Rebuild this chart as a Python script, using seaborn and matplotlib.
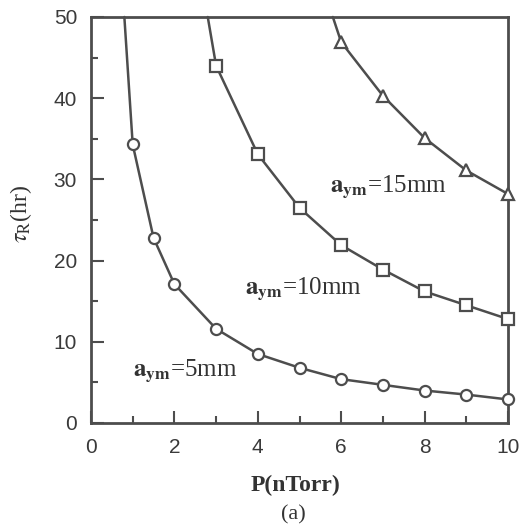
import matplotlib
matplotlib.use("Agg")
import matplotlib.pyplot as plt
import seaborn as sns
import pandas as pd
from matplotlib.ticker import MultipleLocator

# ---- data ----
p_5mm = [1.0, 1.5, 2.0, 3.0, 4.0, 5.0, 6.0, 7.0, 8.0, 9.0, 10.0]
tau_5mm = [34.3, 22.8, 17.1, 11.6, 8.5, 6.8, 5.4, 4.7, 4.0, 3.5, 2.9]
p_10mm = [3.0, 4.0, 5.0, 6.0, 7.0, 8.0, 9.0, 10.0]
tau_10mm = [44.0, 33.1, 26.5, 21.9, 18.9, 16.2, 14.5, 12.8]
p_15mm = [6.0, 7.0, 8.0, 9.0, 10.0]
tau_15mm = [46.9, 40.3, 35.1, 31.1, 28.2]
# where each curve leaves the top of the frame
p_top = [0.8, 2.8, 5.8]
tau_top = [50.0, 50.0, 50.0]
labels = ["$\\mathbf{a}_{\\mathbf{ym}}$=5mm", "$\\mathbf{a}_{\\mathbf{ym}}$=10mm",
          "$\\mathbf{a}_{\\mathbf{ym}}$=15mm"]
label_x = [1.0, 3.7, 5.72]
label_y = [6.4, 16.5, 29.1]
x_ticks = [0, 2, 4, 6, 8, 10]
y_ticks = [0, 10, 20, 30, 40, 50]

sns.set_theme(style="ticks")
plt.rcParams["font.family"] = ["Liberation Sans", "DejaVu Sans"]
plt.rcParams["mathtext.fontset"] = "stix"

fig = plt.figure(figsize=(5.23, 5.29), dpi=100)
ax = fig.add_axes([91 / 523, (529 - 423) / 529, (508 - 91) / 523, (423 - 17) / 529])

col = "#4d4d4d"
series = [(p_5mm, tau_5mm, "o", 8), (p_10mm, tau_10mm, "s", 8.5), (p_15mm, tau_15mm, "^", 9)]
for i, (px, ty, mk, ms) in enumerate(series):
    df = pd.DataFrame({"P": [p_top[i]] + px, "tau": [tau_top[i]] + ty})
    sns.lineplot(data=df, x="P", y="tau", ax=ax, color=col, lw=1.8, sort=False,
                 marker=mk, markersize=ms, markerfacecolor="white",
                 markeredgecolor=col, markeredgewidth=1.6,
                 markevery=list(range(1, len(df))), clip_on=False, zorder=3)

ax.set_xlim(0, 10)
ax.set_ylim(0, 50)
ax.set_xticks(x_ticks)
ax.set_yticks(y_ticks)
ax.xaxis.set_minor_locator(MultipleLocator(1))
ax.yaxis.set_minor_locator(MultipleLocator(5))
ax.tick_params(which="both", direction="in", top=False, right=False, color=col, width=1.5)
ax.tick_params(which="major", length=9)
ax.tick_params(which="minor", length=5)
ax.tick_params(axis="x", which="major", pad=11, labelsize=15, labelcolor="#3a3a3a")
ax.tick_params(axis="y", which="major", pad=10, labelsize=15, labelcolor="#3a3a3a")
for s in ax.spines.values():
    s.set_color(col)
    s.set_linewidth(2)
ax.set_xlabel("")
ax.set_ylabel("")

serif = ["Liberation Serif", "DejaVu Serif"]
for t, lx, ly in zip(labels, label_x, label_y):
    ax.text(lx, ly, t, fontsize=18, family=serif, color="#333333",
            va="center", ha="left")

fig.text(295 / 523, 1 - 485 / 529, "P(nTorr)", fontsize=17, family=serif, fontweight="bold",
         color="#333333", ha="center", va="center")
fig.text(293 / 523, 1 - 515 / 529, "(a)", fontsize=16, family=serif,
         color="#333333", ha="center", va="center")
fig.text(21 / 523, 1 - 214 / 529, "$\\tau_{\\rm R}$(hr)", fontsize=17, family=serif,
         color="#333333", ha="center", va="center", rotation=90)

fig.savefig("out.png", dpi=100)
